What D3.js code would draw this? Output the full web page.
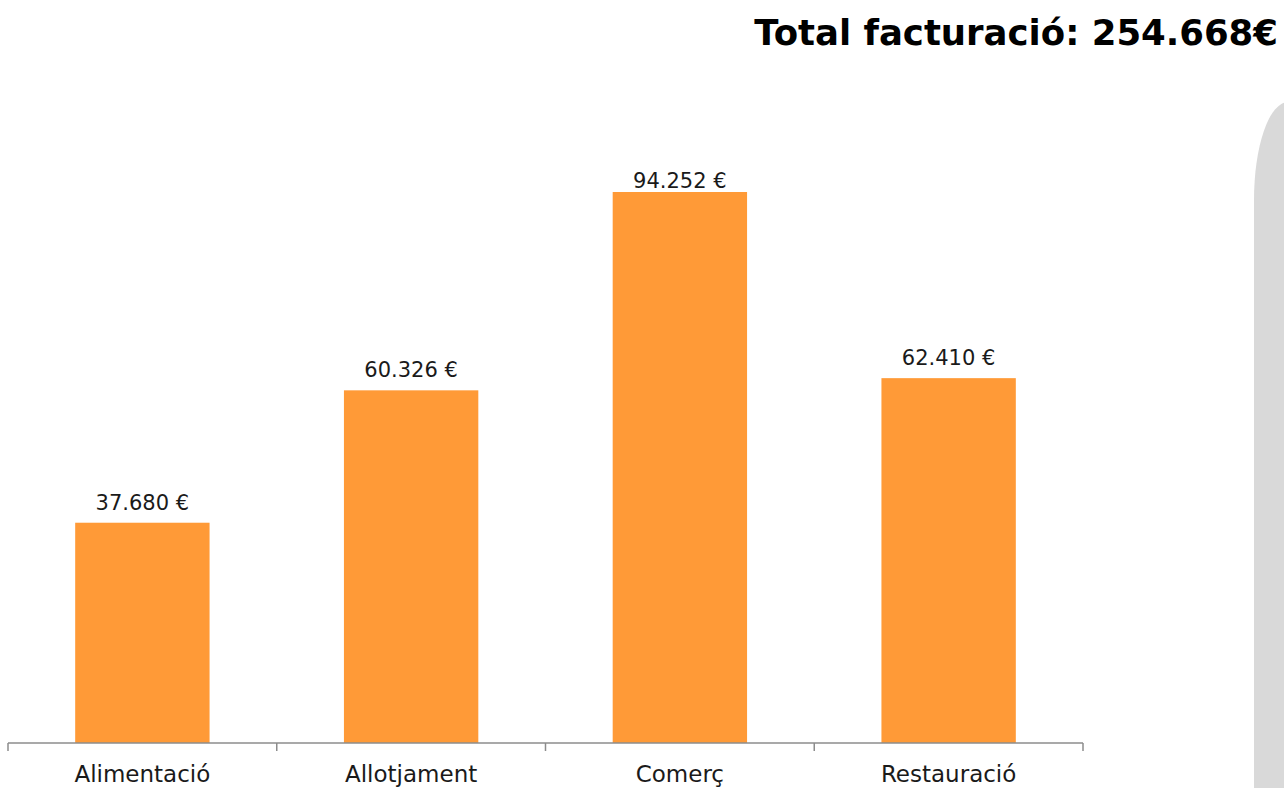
<!DOCTYPE html>
<html><head><meta charset="utf-8">
<script src="https://cdn.jsdelivr.net/npm/d3@7"></script>
<style>html,body{margin:0;padding:0;background:#fff;overflow:hidden}</style>
</head><body>
<svg id="c" width="1284" height="788"></svg>
<script>
const categories = ["Alimentació", "Allotjament", "Comerç", "Restauració"];
const values = [37680, 60326, 94252, 62410];
const valueLabels = ["37.680 €", "60.326 €", "94.252 €", "62.410 €"];
const titleText = "Total facturació: 254.668€";

const svg = d3.select("#c");
const baseY = 743;
const labelTop = 188;
const x = d3.scaleBand().domain(categories).range([8, 1083]).paddingInner(0.5).paddingOuter(0.25);
const y = d3.scaleLinear().domain([0, 100000]).range([baseY, baseY - 584.6]);

// grey decorative shape on the right
svg.append("path")
  .attr("d", "M1254,800 L1254,200 A34,98 0 0 1 1288,102 L1300,102 L1300,800 Z")
  .attr("fill", "#d9d9d9");

const fontFam = "'DejaVu Sans', sans-serif";

svg.selectAll("rect.bar").data(values).enter().append("rect")
  .attr("class", "bar")
  .attr("x", (d, i) => x(categories[i]))
  .attr("width", x.bandwidth())
  .attr("y", d => y(d))
  .attr("height", d => y(0) - y(d))
  .attr("fill", "#FF9A37");

svg.selectAll("text.vl").data(values).enter().append("text")
  .attr("class", "vl")
  .attr("x", (d, i) => x(categories[i]) + x.bandwidth() / 2)
  .attr("y", d => Math.max(y(d) - 13, labelTop))
  .attr("text-anchor", "middle")
  .attr("font-family", fontFam)
  .attr("font-size", 21)
  .attr("fill", "#1a1a1a")
  .text((d, i) => valueLabels[i]);

// axis
const axis = d3.axisBottom(x).tickSize(0).tickFormat("");
const ag = svg.append("g").attr("transform", `translate(0,${baseY})`).call(axis);
ag.select(".domain").remove();
ag.append("line").attr("x1", 8).attr("x2", 1083).attr("y1", 0).attr("y2", 0)
  .attr("stroke", "#8c8c8c").attr("stroke-width", 1.5);
const step = x.step();
const bounds = d3.range(categories.length + 1).map(i => x(categories[0]) - step * 0.25 + i * step);
ag.selectAll("line.tk").data(bounds).enter().append("line")
  .attr("class", "tk")
  .attr("x1", d => d).attr("x2", d => d).attr("y1", 0).attr("y2", 8)
  .attr("stroke", "#8c8c8c").attr("stroke-width", 1.5);

svg.selectAll("text.cat").data(categories).enter().append("text")
  .attr("class", "cat")
  .attr("x", d => x(d) + x.bandwidth() / 2)
  .attr("y", 782)
  .attr("text-anchor", "middle")
  .attr("font-family", fontFam)
  .attr("font-size", 23)
  .attr("fill", "#1a1a1a")
  .text(d => d);

const title = svg.append("text")
  .attr("x", 1278).attr("y", 45)
  .attr("text-anchor", "end")
  .attr("font-family", fontFam)
  .attr("font-weight", "bold")
  .attr("font-size", 40)
  .attr("fill", "#000")
  .text(titleText);
const tw = title.node().getComputedTextLength();
title.attr("font-size", 40 * 524 / tw);
</script>
</body></html>
